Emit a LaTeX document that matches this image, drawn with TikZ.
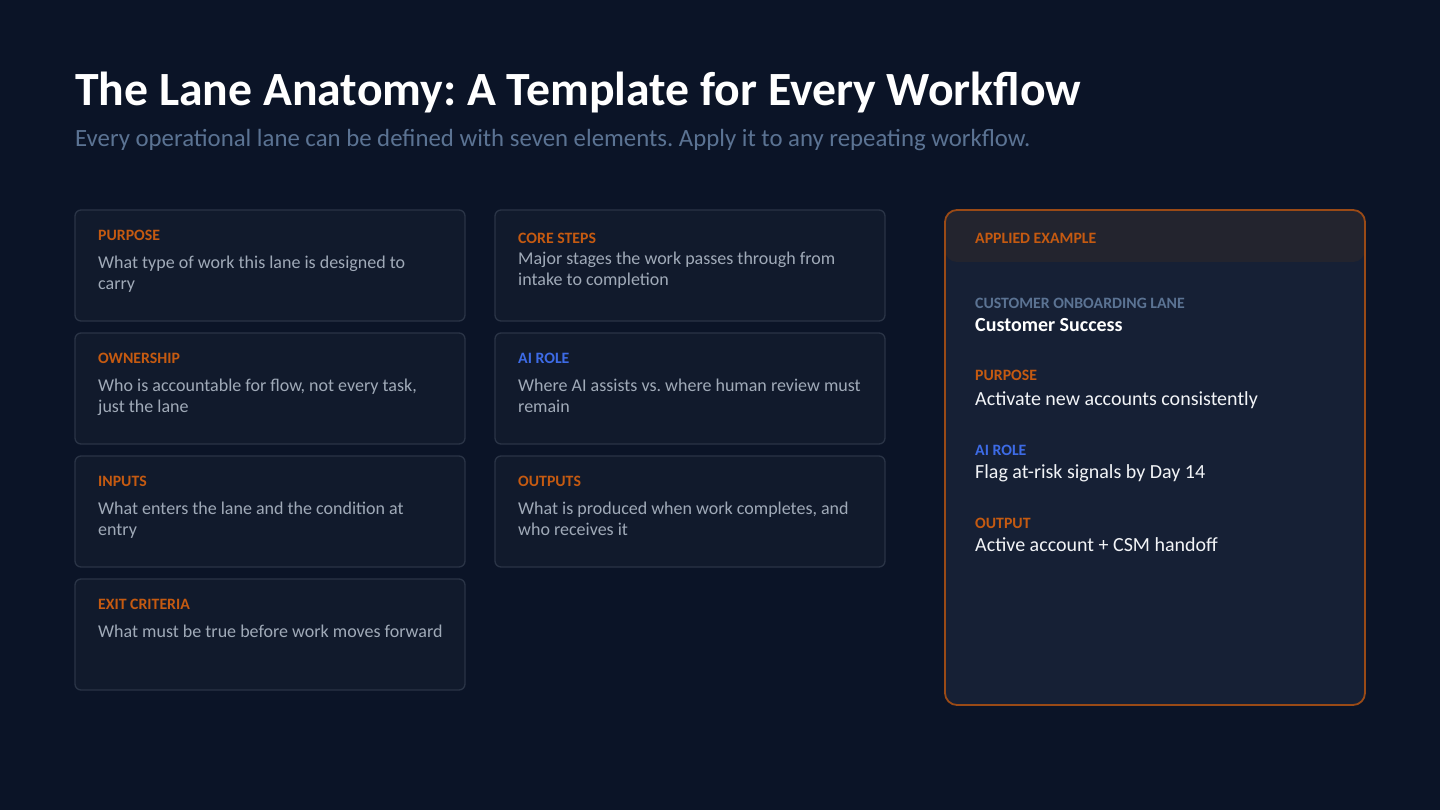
\documentclass[tikz,border=0pt]{standalone}
\usepackage{fontspec}
\setmainfont{Carlito}
\frenchspacing
\definecolor{bg}{HTML}{0B1427}
\definecolor{cardfill}{HTML}{111A2C}
\definecolor{cardline}{HTML}{2A3446}
\definecolor{accent}{HTML}{C55A11}
\definecolor{aiblue}{HTML}{3D6BE6}
\definecolor{subtle}{HTML}{5B7393}
\definecolor{bodygray}{HTML}{A0AAB8}
\definecolor{panelfill}{HTML}{162035}
\definecolor{panelhead}{HTML}{23242E}
\definecolor{panelline}{HTML}{9A4A16}
\definecolor{white2}{HTML}{F2F4F7}
\tikzset{
  card/.style={draw=cardline, line width=1.3pt, fill=cardfill, rounded corners=6pt},
  lbl/.style={anchor=base west, inner sep=0pt, font=\fontsize{15.8}{19}\selectfont\bfseries, text=accent},
  ailbl/.style={lbl, text=aiblue},
  body/.style={anchor=base west, inner sep=0pt, font=\fontsize{18}{21}\selectfont, text=bodygray, align=left},
  ptext/.style={anchor=base west, inner sep=0pt, font=\fontsize{20}{24}\selectfont, text=white2},
}
\begin{document}
\begin{tikzpicture}[x=1pt,y=-1pt]
\fill[bg] (0,0) rectangle (1440,810);
\useasboundingbox (0,0) rectangle (1440,810);
\node[anchor=base west, inner sep=0pt, font=\fontsize{47.7}{56}\selectfont\bfseries, text=white] (title) at (75,105.5) {The Lane Anatomy: A Template for Every Workflow};
\node[anchor=base west, inner sep=0pt, font=\fontsize{24.8}{29}\selectfont, text=subtle] (subtitle) at (75,146.5) {\frenchspacing Every operational lane can be defined with seven elements. Apply it to any repeating workflow.};
% left column
\foreach \nm/\top/\lab/\la/\lb in {
  purpose/210/PURPOSE/What type of work this lane is designed to/carry,
  ownership/333/OWNERSHIP/{Who is accountable for flow, not every task,}/just the lane,
  inputs/456/INPUTS/What enters the lane and the condition at/entry}{
  \draw[card] (75,\top) rectangle (465,\top+111);
  \node[lbl] (\nm-l) at (98,\top+30.7) {\lab};
  \node[body] (\nm-a) at (98,\top+58.3) {\la};
  \node[body] (\nm-b) at (98,\top+79.3) {\lb};
}
\draw[card] (75,579) rectangle (465,690);
\node[lbl] (exit-l) at (98,609.5) {EXIT CRITERIA};
\node[body] (exit-a) at (98,637) {What must be true before work moves forward};
% middle column
\draw[card] (495,210) rectangle (885,321);
\node[lbl] (core-l) at (518,243.3) {CORE STEPS};
\node[body] (core-a) at (518,265) {Major stages the work passes through from};
\node[body] (core-b) at (518,286) {intake to completion};
\draw[card] (495,333) rectangle (885,444);
\node[ailbl] (ai-l) at (518,363.7) {AI ROLE};
\node[body] (ai-a) at (518,391.3) {\frenchspacing Where AI assists vs. where human review must};
\node[body] (ai-b) at (518,412.3) {remain};
\draw[card] (495,456) rectangle (885,567);
\node[lbl] (out-l) at (518,486.7) {OUTPUTS};
\node[body] (out-a) at (518,514.3) {What is produced when work completes, and};
\node[body] (out-b) at (518,535.3) {who receives it};
% right panel
\fill[panelfill, rounded corners=12pt] (945,210) rectangle (1365,705);
\fill[panelhead, rounded corners=12pt] (945,210) rectangle (1365,262);
\draw[panelline, line width=1.8pt, rounded corners=12pt] (945,210) rectangle (1365,705);
\node[lbl] (ex-h) at (975,243.3) {APPLIED EXAMPLE};
\node[lbl, text=subtle] (ex-lane) at (975,308.3) {CUSTOMER ONBOARDING LANE};
\node[ptext, font=\fontsize{20}{24}\selectfont\bfseries, text=white] (ex-name) at (975,331) {Customer Success};
\node[lbl] (ex-pl) at (975,380.7) {PURPOSE};
\node[ptext] (ex-pt) at (975,405) {Activate new accounts consistently};
\node[ailbl] (ex-al) at (975,455) {AI ROLE};
\node[ptext] (ex-at) at (975,478.3) {Flag at-risk signals by Day 14};
\node[lbl] (ex-ol) at (975,528.3) {OUTPUT};
\node[ptext] (ex-ot) at (975,551.7) {Active account + CSM handoff};
\end{tikzpicture}
\end{document}
